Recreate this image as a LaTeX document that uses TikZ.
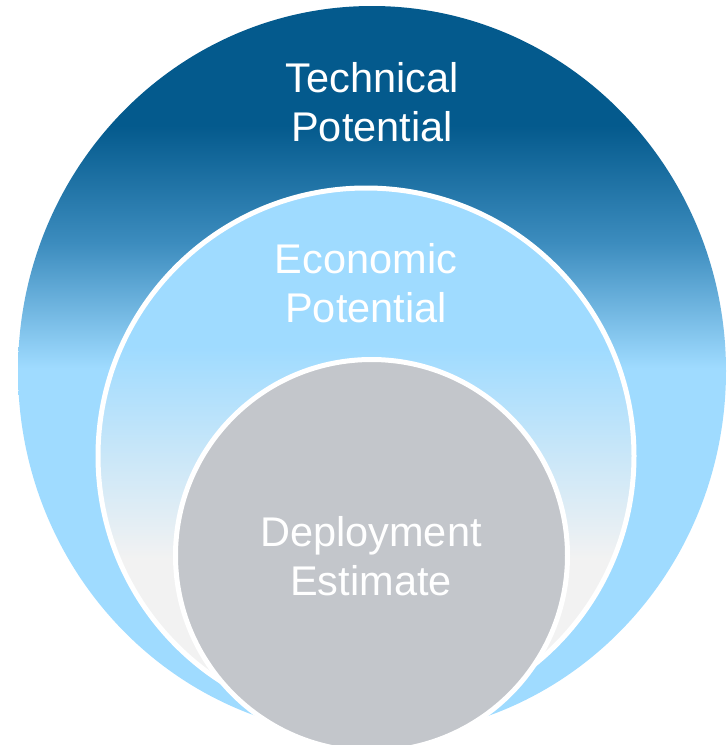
\documentclass[tikz,border=0pt]{standalone}
\usepackage{fontspec}
\setmainfont{Liberation Sans}

\definecolor{deepblue}{RGB}{4,90,141}
\definecolor{midblue}{RGB}{60,140,190}
\definecolor{skyblue}{RGB}{159,219,255}
\definecolor{palegrey}{RGB}{242,242,242}
\definecolor{coregrey}{RGB}{195,198,203}

% vertical fades, 25bp = bottom of the path, 75bp = top
\pgfdeclareverticalshading{techfade}{100bp}{color(0bp)=(skyblue); color(50.2bp)=(skyblue);
  color(58.8bp)=(midblue); color(66.8bp)=(deepblue); color(100bp)=(deepblue)}
\pgfdeclareverticalshading{econfade}{100bp}{color(0bp)=(palegrey); color(40.4bp)=(palegrey);
  color(60.2bp)=(skyblue); color(100bp)=(skyblue)}

\begin{document}
\begin{tikzpicture}[
    x=1pt, y=-1pt,
    ring/.style={draw=white, line width=5pt},
    ringtext/.style={text=white, align=center, font=\fontsize{41.5}{49}\selectfont}
  ]
    \useasboundingbox (0,0) rectangle (728,745);

    % Define the three nested shapes
    \shade[shading=techfade] (372,371) ellipse [x radius=354, y radius=365];
    \shade[shading=econfade, ring] (366,456) circle [radius=268];
    \filldraw[fill=coregrey, ring] (371.5,555.5) circle [radius=196];

    % Labels
    \node[ringtext] (technical) at (372,102) {Technical\\Potential};
    \node[ringtext] (economic) at (366,283) {Economic\\Potential};
    \node[ringtext] (deployment) at (371,556) {Deployment\\Estimate};
\end{tikzpicture}
\end{document}
